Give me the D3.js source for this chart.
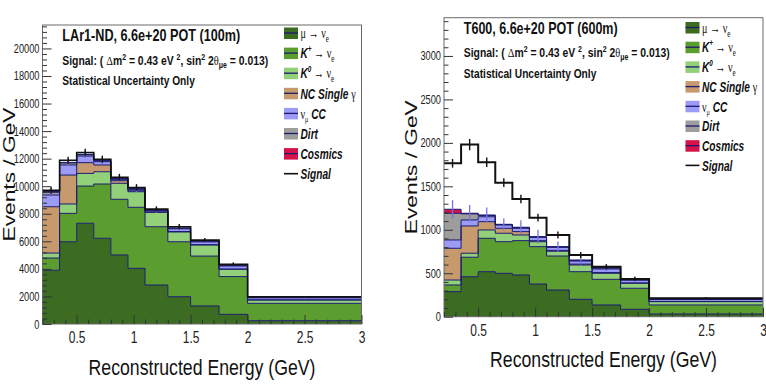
<!DOCTYPE html>
<html><head><meta charset="utf-8">
<script src="https://cdn.jsdelivr.net/npm/d3@7"></script>
<style>body{margin:0;background:#fff} svg{display:block}</style>
</head><body>
<svg id="chart" width="766" height="386"></svg>
<script>
// ---------- data ----------
const binEdges = [0.2, 0.35, 0.5, 0.65, 0.8, 0.95, 1.1, 1.3, 1.5, 1.75, 2, 3];
const categories = ["mu->nue", "K+->nue", "K0->nue", "NC Single gamma", "numu CC", "Dirt", "Cosmics", "Signal"];
const xTickLabels = [0.5, 1, 1.5, 2, 2.5, 3];

// LAr1-ND (100m)
const nd_muNue    = [3900, 5970, 7310, 6220, 5010, 4040, 2830, 1980, 1310, 700, 240];
const nd_kPlus    = [890, 2060, 2700, 3940, 4040, 4430, 4230, 3990, 3620, 2740, 1260];
const nd_kZero    = [360, 680, 920, 890, 1160, 1130, 1040, 710, 800, 530, 240];
const nd_ncGamma  = [3360, 2100, 780, 490, 190, 70, 40, 30, 30, 20, 10];
const nd_numuCC   = [850, 730, 480, 240, 100, 100, 80, 200, 200, 220, 150];
const nd_dirt     = [200, 150, 100, 60, 40, 40, 30, 40, 50, 50, 30];
const nd_cosmics  = [60, 40, 30, 20, 20, 10, 10, 20, 20, 20, 10];
const nd_signal   = [80, 150, 130, 100, 90, 90, 80, 90, 60, 50, 40];
const nd_bkgErr   = [250, 260, 270, 260, 250, 240, 200, 190, 160, 140, 50];
const nd_sigErr   = [250, 260, 270, 260, 250, 240, 200, 190, 160, 140, 50];
const nd_yTicks   = [0, 2000, 4000, 6000, 8000, 10000, 12000, 14000, 16000, 18000, 20000];

// T600 (600m)
const t6_muNue    = [288, 460, 518, 499, 480, 376, 307, 200, 135, 85, 31];
const t6_kPlus    = [77, 224, 384, 364, 395, 430, 391, 318, 295, 242, 104];
const t6_kZero    = [57, 46, 96, 97, 65, 57, 55, 77, 69, 57, 38];
const t6_ncGamma  = [365, 314, 95, 57, 39, 12, 10, 10, 10, 5, 3];
const t6_numuCC   = [96, 69, 57, 38, 38, 38, 35, 35, 40, 30, 22];
const t6_dirt     = [307, 70, 15, 5, 8, 5, 5, 8, 10, 8, 8];
const t6_cosmics  = [46, 7, 5, 3, 4, 3, 3, 4, 5, 3, 4];
const t6_signal   = [529, 790, 607, 479, 325, 218, 134, 58, 10, 5, 3];
const t6_bkgErr   = [105, 95, 85, 70, 80, 80, 60, 50, 40, 30, 10];
const t6_sigErr   = [50, 65, 55, 50, 48, 45, 40, 35, 30, 25, 10];
const t6_yTicks   = [0, 500, 1000, 1500, 2000, 2500, 3000];

// ---------- styles ----------
const layerColors = ["#3c6b22", "#5b9e2f", "#93d07a", "#c69a6c", "#9c9cf6", "#9d9d9d", "#d5124a"];
const edgeColor = "#1b1b70";
const SANS = "'Liberation Sans', Arial, Helvetica, sans-serif";
const SERIF = "'Liberation Serif', 'Times New Roman', serif";

const panels = [
  { title: "LAr1-ND, 6.6e+20 POT (100m)", titleW: 178,
    series: [nd_muNue, nd_kPlus, nd_kZero, nd_ncGamma, nd_numuCC, nd_dirt, nd_cosmics],
    signal: nd_signal, bkgErr: nd_bkgErr, sigErr: nd_sigErr, yTicks: nd_yTicks,
    left: 42.5, right: 361.5, top: 25, bottom: 324, yMax: 21700, yMinor: 400,
    legY0: 33, legStep: 20.1, sigWidth: 1.6 },
  { title: "T600, 6.6e+20 POT (600m)", titleW: 154,
    series: [t6_muNue, t6_kPlus, t6_kZero, t6_ncGamma, t6_numuCC, t6_dirt, t6_cosmics],
    signal: t6_signal, bkgErr: t6_bkgErr, sigErr: t6_sigErr, yTicks: t6_yTicks,
    left: 444, right: 763, top: 17.7, bottom: 316.7, yMax: 3440, yMinor: 100,
    legY0: 27.5, legStep: 19.7, sigWidth: 2 }
];

const svg = d3.select("#chart");

function fitText(parent, x, y, build, opt) {
  const g = parent.append("g").attr("transform", `translate(${x},${y})`);
  const t = g.append("text");
  build(t);
  const w = t.node().getBBox().width;
  const sx = opt.width ? opt.width / w : opt.sx;
  g.attr("transform", `translate(${x},${y}) scale(${sx},1)`);
  return g;
}

function ts(t, txt, o = {}) {
  const s = t.append("tspan").text(txt);
  if (o.family) s.attr("font-family", o.family);
  if (o.weight) s.attr("font-weight", o.weight);
  if (o.style) s.attr("font-style", o.style);
  if (o.size) s.attr("font-size", o.size);
  if (o.dy) s.attr("dy", o.dy);
  return s;
}

const legendBuilders = [
  t => { ts(t, "\u03bc \u2192 \u03bd", {family: SERIF, weight: "normal", style: "normal"}); ts(t, "e", {family: SERIF, weight: "normal", style: "normal", size: 10, dy: 4}); },
  t => { ts(t, "K"); ts(t, "+", {size: 9, dy: -6}); ts(t, " \u2192 \u03bd", {family: SERIF, weight: "normal", style: "normal", dy: 6}); ts(t, "e", {family: SERIF, weight: "normal", style: "normal", size: 10, dy: 4}); },
  t => { ts(t, "K"); ts(t, "0", {size: 9, dy: -6}); ts(t, " \u2192 \u03bd", {family: SERIF, weight: "normal", style: "normal", dy: 6}); ts(t, "e", {family: SERIF, weight: "normal", style: "normal", size: 10, dy: 4}); },
  t => { ts(t, "NC Single "); ts(t, "\u03b3", {family: SERIF, weight: "normal", style: "normal"}); },
  t => { ts(t, "\u03bd", {family: SERIF, weight: "normal", style: "normal"}); ts(t, "\u03bc", {family: SERIF, weight: "normal", style: "normal", size: 9, dy: 3}); ts(t, " CC", {dy: -3}); },
  t => { ts(t, "Dirt"); },
  t => { ts(t, "Cosmics"); },
  t => { ts(t, "Signal"); }
];

function drawPanel(p) {
  const x = d3.scaleLinear().domain([binEdges[0], binEdges[binEdges.length - 1]]).range([p.left, p.right]);
  const y = d3.scaleLinear().domain([0, p.yMax]).range([p.bottom, p.top]);
  const g = svg.append("g");
  const nb = binEdges.length - 1;

  // cumulative stack
  let base = new Array(nb).fill(0);
  const layers = p.series.map((s, i) => {
    const lo = base.slice();
    const hi = base.map((b, j) => b + s[j]);
    base = hi;
    return { lo, hi, color: layerColors[i] };
  });
  const stackTop = base;
  const totalTop = stackTop.map((v, j) => v + p.signal[j]);
  const pts = (lo, hi) => binEdges.map((e, j) => ({ e, lo: lo[Math.min(j, nb - 1)], hi: hi[Math.min(j, nb - 1)] }));

  const area = d3.area().curve(d3.curveStepAfter).x(d => x(d.e)).y0(d => y(d.lo)).y1(d => y(d.hi));
  const line = d3.line().curve(d3.curveStepAfter).x(d => x(d.e)).y(d => y(d.hi));

  layers.forEach(L => {
    g.append("path").attr("d", area(pts(L.lo, L.hi))).attr("fill", L.color).attr("stroke", "none");
  });
  layers.forEach(L => {
    g.append("path").attr("d", line(pts(L.lo, L.hi))).attr("fill", "none").attr("stroke", edgeColor).attr("stroke-width", 1);
  });

  const centers = binEdges.slice(0, -1).map((e, j) => (e + binEdges[j + 1]) / 2);
  // background stat errors
  g.selectAll(null).data(centers).enter().append("line")
    .attr("x1", d => x(d)).attr("x2", d => x(d))
    .attr("y1", (d, j) => y(stackTop[j] - p.bkgErr[j])).attr("y2", (d, j) => y(stackTop[j] + p.bkgErr[j]))
    .attr("stroke", "#7474e0").attr("stroke-width", 1.3);

  // signal (stacked on top)
  g.append("path").attr("d", line(pts(stackTop, totalTop))).attr("fill", "none")
    .attr("stroke", "#111").attr("stroke-width", p.sigWidth);
  g.selectAll(null).data(centers).enter().append("line")
    .attr("x1", d => x(d)).attr("x2", d => x(d))
    .attr("y1", (d, j) => y(totalTop[j] - p.sigErr[j])).attr("y2", (d, j) => y(totalTop[j] + p.sigErr[j]))
    .attr("stroke", "#111").attr("stroke-width", 1.4);

  // frame
  g.append("rect").attr("x", p.left).attr("y", p.top).attr("width", p.right - p.left).attr("height", p.bottom - p.top)
    .attr("fill", "none").attr("stroke", "#6a6a6a").attr("stroke-width", 1);

  // y axis
  const yMinorVals = d3.range(0, p.yMax, p.yMinor).filter(v => !p.yTicks.includes(v));
  const ya = g.append("g").attr("transform", `translate(${p.left},0)`)
    .call(d3.axisLeft(y).tickValues(p.yTicks).tickSize(-9).tickSizeOuter(0).tickPadding(3).tickFormat(d3.format("d")));
  ya.select(".domain").remove();
  ya.selectAll("line").attr("stroke", "#333");
  ya.selectAll("text").attr("font-family", SANS).attr("font-size", 12.5).attr("fill", "#222").each(function () {
    const s = d3.select(this); const xx = +s.attr("x");
    s.attr("x", 0).attr("transform", `translate(${xx},0) scale(0.74,1)`);
  });
  const yb = g.append("g").attr("transform", `translate(${p.left},0)`)
    .call(d3.axisLeft(y).tickValues(yMinorVals).tickSize(-4.5).tickSizeOuter(0).tickFormat(""));
  yb.select(".domain").remove();
  yb.selectAll("line").attr("stroke", "#333");

  // x axis
  const xMinorVals = d3.range(2, 31).filter(i => i % 5 !== 0).map(i => i / 10);
  const xa = g.append("g").attr("transform", `translate(0,${p.bottom})`)
    .call(d3.axisBottom(x).tickValues(xTickLabels).tickSize(-9).tickSizeOuter(0).tickPadding(8).tickFormat(d3.format("~g")));
  xa.select(".domain").remove();
  xa.selectAll("line").attr("stroke", "#333");
  xa.selectAll("text").attr("font-family", SANS).attr("font-size", 16).attr("fill", "#222")
    .attr("transform", "scale(0.75,1)").each(function (d) { d3.select(this).attr("x", 0); });
  xa.selectAll(".tick").each(function (d) {
    const tk = d3.select(this); const tx = tk.select("text");
    tx.attr("transform", "scale(0.75,1)");
  });
  const xb = g.append("g").attr("transform", `translate(0,${p.bottom})`)
    .call(d3.axisBottom(x).tickValues(xMinorVals).tickSize(-4.5).tickSizeOuter(0).tickFormat(""));
  xb.select(".domain").remove();
  xb.selectAll("line").attr("stroke", "#333");

  // axis titles
  fitText(g, (p.left + p.right) / 2, p.bottom + 50.5, t => {
    t.attr("font-family", SANS).attr("font-size", 22.5).attr("text-anchor", "middle").attr("fill", "#111").text("Reconstructed Energy (GeV)");
  }, { width: 227 });
  const yl = g.append("g");
  const ylt = yl.append("text").attr("font-family", SANS).attr("font-size", 22.5).attr("text-anchor", "middle").attr("fill", "#111").text("Events / GeV");
  const ylw = ylt.node().getBBox().width;
  yl.attr("transform", `translate(${p.left - 27.5},${(p.top + p.bottom) / 2}) rotate(-90) scale(${134 / ylw},0.74)`);

  // header texts
  const tx0 = p.left + 19.8;
  fitText(g, tx0, p.top + 16.3, t => {
    t.attr("font-family", SANS).attr("font-weight", "bold").attr("font-size", 16.5).attr("fill", "#111").text(p.title);
  }, { width: p.titleW });
  fitText(g, tx0, p.top + 39.6, t => {
    t.attr("font-family", SANS).attr("font-weight", "bold").attr("font-size", 13.5).attr("fill", "#111");
    ts(t, "Signal: ( ");
    ts(t, "\u0394", { family: SERIF, weight: "normal" });
    ts(t, "m");
    ts(t, "2", { size: 9, dy: -5 });
    ts(t, " = 0.43 eV ", { dy: 5 });
    ts(t, "2", { size: 9, dy: -5 });
    ts(t, ", sin", { dy: 5 });
    ts(t, "2", { size: 9, dy: -5 });
    ts(t, " 2", { dy: 5 });
    ts(t, "\u03b8", { family: SERIF, weight: "normal" });
    ts(t, "\u03bce", { size: 9, dy: 3 });
    ts(t, " = 0.013)", { dy: -3 });
  }, { width: 206 });
  fitText(g, tx0, p.top + 59.8, t => {
    t.attr("font-family", SANS).attr("font-weight", "bold").attr("font-size", 13.5).attr("fill", "#111").text("Statistical Uncertainty Only");
  }, { width: 133 });

  // legend
  const bx = p.right - 77.5;
  categories.forEach((c, i) => {
    const cy = p.legY0 + i * p.legStep;
    if (i < layerColors.length) {
      g.append("rect").attr("x", bx).attr("y", cy - 5.5).attr("width", 14).attr("height", 11.5).attr("fill", layerColors[i]);
      g.append("line").attr("x1", bx).attr("x2", bx + 14).attr("y1", cy).attr("y2", cy).attr("stroke", edgeColor).attr("stroke-width", 1.3);
    } else {
      g.append("line").attr("x1", bx).attr("x2", bx + 14).attr("y1", cy).attr("y2", cy).attr("stroke", "#111").attr("stroke-width", 1.6);
    }
    fitText(g, bx + 16.5, cy + 5.2, t => {
      t.attr("font-family", SANS).attr("font-weight", "bold").attr("font-style", "italic").attr("font-size", 14.5).attr("fill", "#111");
      legendBuilders[i](t);
    }, { sx: 0.7 });
  });
}

panels.forEach(drawPanel);
</script>
</body></html>
